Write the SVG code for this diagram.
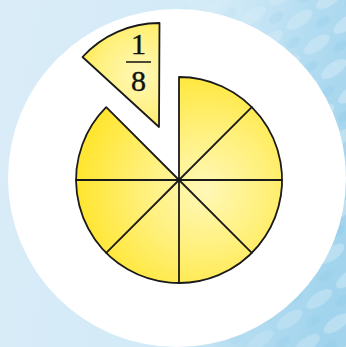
<svg xmlns="http://www.w3.org/2000/svg" width="346" height="347" viewBox="0 0 346 347">
<defs>
<linearGradient id="bg" x1="0" y1="0.4" x2="1" y2="0.6">
<stop offset="0" stop-color="#d9ecf8"/>
<stop offset="0.55" stop-color="#d2eaf7"/>
<stop offset="0.8" stop-color="#b3dcf1"/>
<stop offset="1" stop-color="#a2d4ed"/>
</linearGradient>
<linearGradient id="fade" x1="0" y1="0" x2="1" y2="0">
<stop offset="0.5" stop-color="#fff" stop-opacity="0"/>
<stop offset="1" stop-color="#fff" stop-opacity="1"/>
</linearGradient>
<mask id="pm"><rect width="346" height="347" fill="url(#fade)"/></mask>
<pattern id="dots" width="36" height="30" patternUnits="userSpaceOnUse" patternTransform="rotate(-35)">
<ellipse cx="18" cy="8" rx="15" ry="6.5" fill="#ffffff" fill-opacity="0.28"/>
<ellipse cx="0" cy="23" rx="8" ry="4.5" fill="#8ccbe9" fill-opacity="0.3"/>
<ellipse cx="36" cy="23" rx="8" ry="4.5" fill="#8ccbe9" fill-opacity="0.3"/>
</pattern>
<radialGradient id="yel" cx="205" cy="190" r="125" gradientUnits="userSpaceOnUse">
<stop offset="0" stop-color="#fff8b8"/>
<stop offset="0.5" stop-color="#fff07a"/>
<stop offset="1" stop-color="#ffe633"/>
</radialGradient>
<radialGradient id="yel2" cx="140" cy="75" r="75" gradientUnits="userSpaceOnUse">
<stop offset="0" stop-color="#fff8b8"/>
<stop offset="0.6" stop-color="#fff07a"/>
<stop offset="1" stop-color="#ffe633"/>
</radialGradient>
</defs>
<style>
.pie{fill:url(#yel);stroke:#1a1a1a;stroke-width:1.8;stroke-linejoin:round}
.cut{stroke:#1a1a1a;stroke-width:1.8;fill:none;stroke-linecap:round}
.num{font-family:"Liberation Serif","Times New Roman",serif;font-size:30px;fill:#111;text-anchor:middle;stroke:#111;stroke-width:0.4}
</style>
<rect width="346" height="347" fill="url(#bg)"/>
<rect width="346" height="347" fill="url(#dots)" mask="url(#pm)"/>
<circle cx="177" cy="178" r="169" fill="#ffffff"/>
<g id="pie">
<path class="pie" d="M179,180 L179,77 A103,103 0 1 1 106.2,107.2 Z"/>
</g>
<g id="cuts">
<line class="cut" x1="179" y1="180" x2="251.8" y2="107.2"/>
<line class="cut" x1="179" y1="180" x2="282" y2="180"/>
<line class="cut" x1="179" y1="180" x2="251.8" y2="252.8"/>
<line class="cut" x1="179" y1="180" x2="179" y2="283"/>
<line class="cut" x1="179" y1="180" x2="106.2" y2="252.8"/>
<line class="cut" x1="179" y1="180" x2="76" y2="180"/>
</g>
<g id="slice">
<path d="M159,127 L159.5,23 A104,104 0 0 0 82.5,57 Z" fill="url(#yel2)" stroke="#1a1a1a" stroke-width="1.8" stroke-linejoin="round"/>
<text class="num" x="138.5" y="54">1</text>
<line x1="126" y1="62" x2="151" y2="62" stroke="#111" stroke-width="1.5"/>
<text class="num" x="138.5" y="91">8</text>
</g>
</svg>
